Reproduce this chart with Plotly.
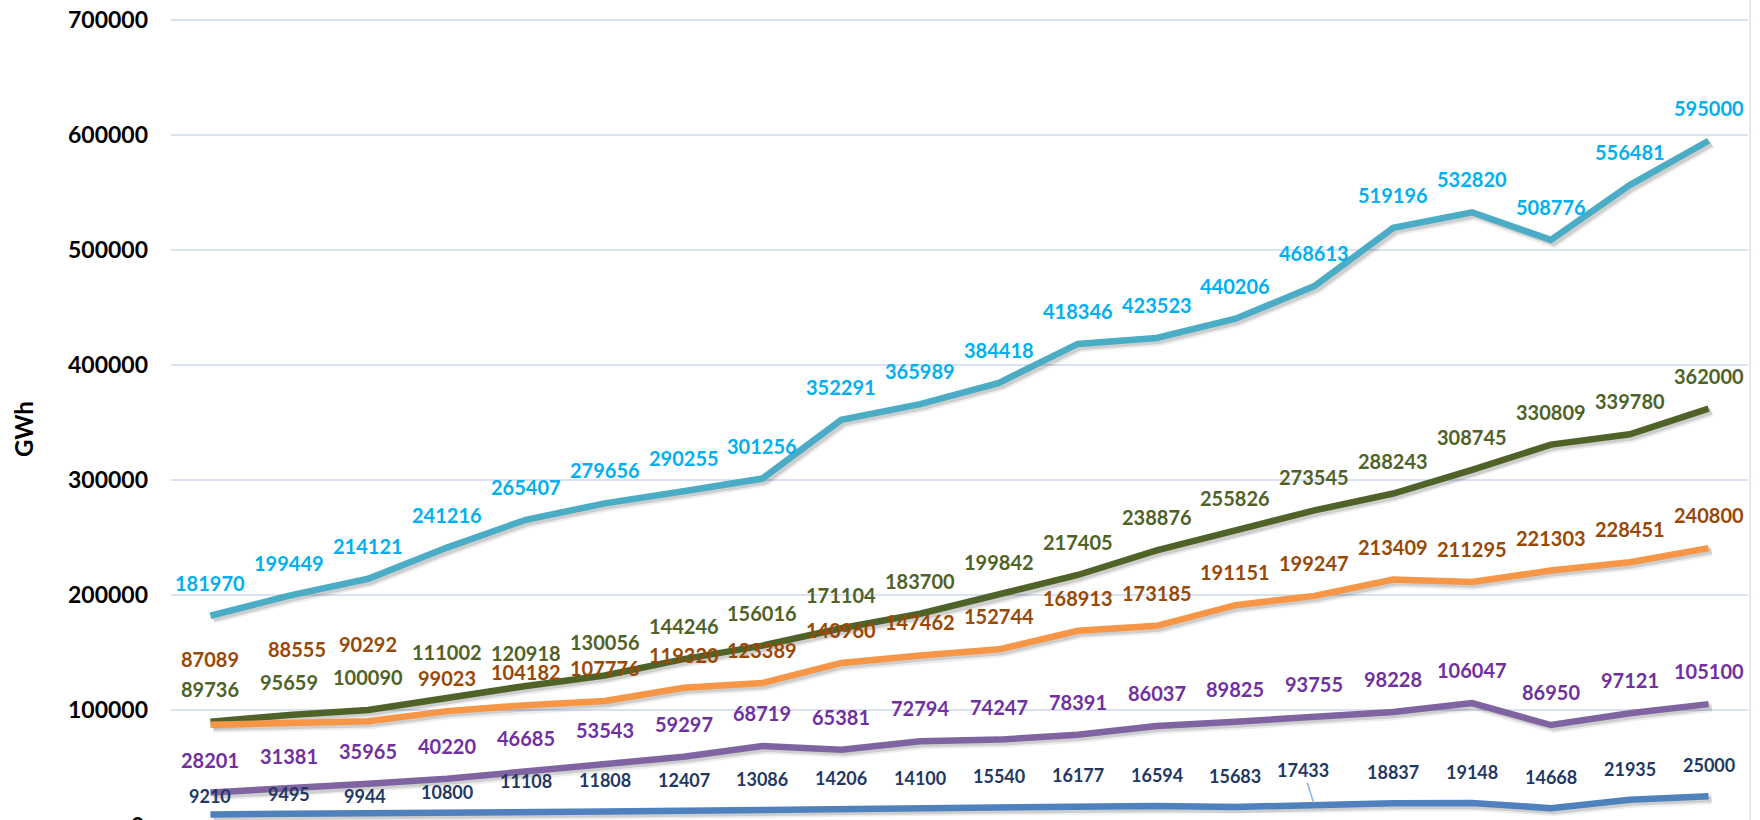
import plotly.graph_objects as go

# Category index (20 periods, axis labels hidden)
periods = list(range(20))

series_a = [181970, 199449, 214121, 241216, 265407, 279656, 290255, 301256, 352291, 365989,
            384418, 418346, 423523, 440206, 468613, 519196, 532820, 508776, 556481, 595000]
series_b = [89736, 95659, 100090, 111002, 120918, 130056, 144246, 156016, 171104, 183700,
            199842, 217405, 238876, 255826, 273545, 288243, 308745, 330809, 339780, 362000]
series_c = [87089, 88555, 90292, 99023, 104182, 107776, 119320, 123389, 140960, 147462,
            152744, 168913, 173185, 191151, 199247, 213409, 211295, 221303, 228451, 240800]
series_d = [28201, 31381, 35965, 40220, 46685, 53543, 59297, 68719, 65381, 72794,
            74247, 78391, 86037, 89825, 93755, 98228, 106047, 86950, 97121, 105100]
series_e = [9210, 9495, 9944, 10800, 11108, 11808, 12407, 13086, 14206, 14100,
            15540, 16177, 16594, 15683, 17433, 18837, 19148, 14668, 21935, 25000]

y_tick_values = [100000, 200000, 300000, 400000, 500000, 600000, 700000]

FONT = "Lato"

# name, values, line colour, label colour, label size, default label lift (px)
styles = [
    ("a", series_a, "#4BACC6", "#00B0F0", 20, 33),
    ("b", series_b, "#4F6228", "#4F6228", 20, 33),
    ("c", series_c, "#F79646", "#984807", 20, 33),
    ("d", series_d, "#8064A2", "#7030A0", 20, 33),
    ("e", series_e, "#4F81BD", "#1F3864", 18, 31),
]

# hand-placed labels: (series, index) -> (dx, lift) in pixels
label_nudge = {
    ("c", 0): (0, 66), ("c", 1): (8, 74), ("c", 2): (0, 77),
    ("b", 3): (0, 45),
    ("e", 0): (0, 18), ("e", 1): (0, 20), ("e", 2): (-3, 18), ("e", 3): (0, 21),
}

# pixel geometry of the plot area
L, R, T, B = 171, 12, 10, 0
W, H = 1760, 820
plot_w = W - L - R
plot_h = H - T - B
px_per_unit = 115 / 100000.0
y_lo = 5 / px_per_unit
y_hi = 700000 + (20 - T) / px_per_unit
x_lo, x_hi = -0.5, 19.5
px_per_cat = plot_w / (x_hi - x_lo)

# drop shadow offset
sdx, sdy = 3, 3
xs_range = [x_lo - sdx / px_per_cat, x_hi - sdx / px_per_cat]
ys_range = [y_lo + sdy / px_per_unit, y_hi + sdy / px_per_unit]

fig = go.Figure()

for name, vals, lc, tc, fs, lift in styles:
    fig.add_trace(go.Scatter(x=periods, y=vals, mode="lines", xaxis="x2", yaxis="y2",
                             line=dict(color="rgba(0,0,0,0.07)", width=10),
                             hoverinfo="skip", showlegend=False))
    fig.add_trace(go.Scatter(x=periods, y=vals, mode="lines", xaxis="x2", yaxis="y2",
                             line=dict(color="rgba(0,0,0,0.13)", width=6),
                             hoverinfo="skip", showlegend=False))

for name, vals, lc, tc, fs, lift in styles:
    fig.add_trace(go.Scatter(x=periods, y=vals, mode="lines", xaxis="x3", yaxis="y3",
                             line=dict(color=lc, width=6.5), showlegend=False))

for name, vals, lc, tc, fs, lift in styles:
    for i, v in enumerate(vals):
        font = dict(family=FONT, size=fs, color=tc, weight="bold")
        if (name, i) == ("e", 14):
            fig.add_annotation(x=periods[i], y=v, xref="x", yref="y", text=str(v),
                               showarrow=True, arrowhead=0, arrowwidth=1.5,
                               arrowcolor="#8DB4E2", ax=-11, ay=-35, standoff=2,
                               font=font)
            continue
        dx, dy = label_nudge.get((name, i), (0, lift))
        fig.add_annotation(x=periods[i], y=v, xref="x", yref="y", text=str(v),
                           showarrow=False, xshift=dx, yshift=dy,
                           xanchor="center", yanchor="middle", font=font)

# zero tick sits just below the visible area (placed in paper units so it is not culled)
zero_paper = (0 - y_lo) / (y_hi - y_lo)
fig.add_annotation(x=0, y=zero_paper, xref="paper", yref="paper", text="0", showarrow=False,
                   xanchor="right", yanchor="middle", xshift=-25,
                   font=dict(family=FONT, size=23, color="#000000", weight="bold"))

# axis title
fig.add_annotation(x=(23 - L) / plot_w, y=(H - B - 429) / plot_h, xref="paper", yref="paper",
                   text="GWh", textangle=-90, showarrow=False,
                   xanchor="center", yanchor="middle",
                   font=dict(family=FONT, size=24, color="#000000", weight="bold"))

# right chart border
bx = (1750 - L) / plot_w
fig.add_shape(type="line", xref="paper", yref="paper", x0=bx, x1=bx, y0=0, y1=(H - B) / plot_h,
              line=dict(color="#D9E2F0", width=1.5))

fig.update_layout(
    width=W, height=H,
    margin=dict(l=L, r=R, t=T, b=B),
    paper_bgcolor="white", plot_bgcolor="white",
    showlegend=False,
    xaxis=dict(range=[x_lo, x_hi], showgrid=False, zeroline=False, showline=False,
               showticklabels=False, ticks=""),
    yaxis=dict(range=[y_lo, y_hi], tickvals=y_tick_values, tickformat="d",
               showgrid=True, gridcolor="#D9E2F3", gridwidth=2,
               zeroline=False, showline=False, ticks="", ticklabelstandoff=22,
               tickfont=dict(family=FONT, size=23, color="#000000", weight="bold")),
    xaxis2=dict(overlaying="x", range=xs_range, visible=False),
    yaxis2=dict(overlaying="y", range=ys_range, visible=False),
    xaxis3=dict(overlaying="x", range=[x_lo, x_hi], visible=False),
    yaxis3=dict(overlaying="y", range=[y_lo, y_hi], visible=False),
)

fig.write_html("out.html")
